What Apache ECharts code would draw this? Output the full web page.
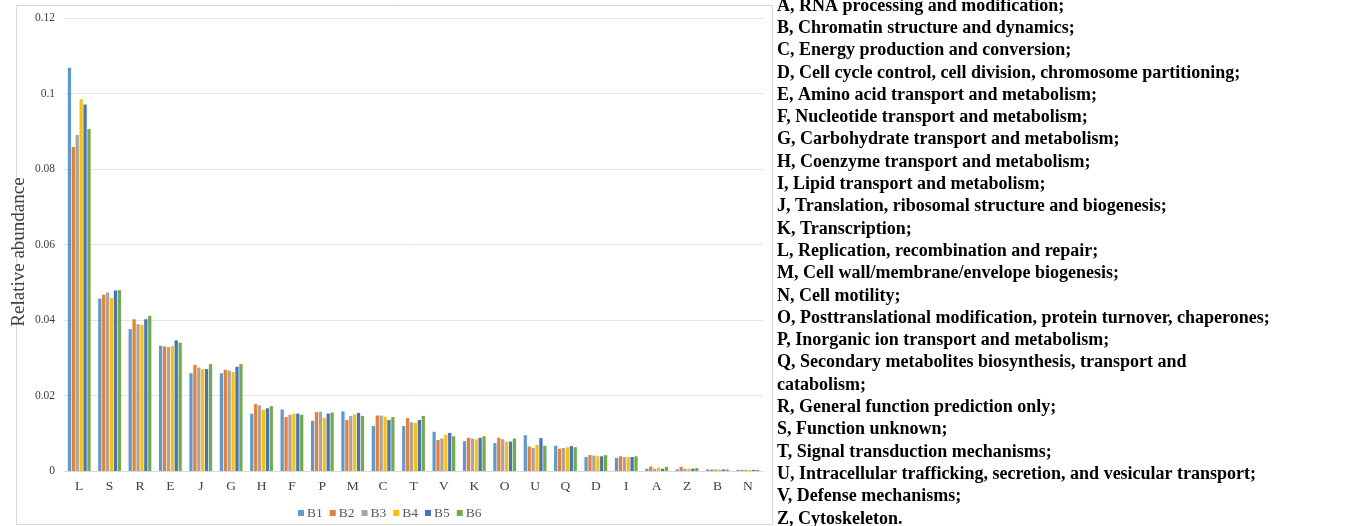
<!DOCTYPE html>
<html>
<head>
<meta charset="utf-8">
<script src="https://cdn.jsdelivr.net/npm/echarts@6/dist/echarts.min.js"></script>
<style>
  html, body { margin: 0; padding: 0; background: #fff; }
  #chart { width: 1358px; height: 526px; }
</style>
</head>
<body>
<div id="chart"></div>
<script>
// COG functional categories, ordered by abundance
const categories = ['L','S','R','E','J','G','H','F','P','M','C','T','V','K','O','U','Q','D','I','A','Z','B','N'];

const sampleNames = ['B1','B2','B3','B4','B5','B6'];

const b1 = [0.1068,0.0457,0.0376,0.0332,0.0259,0.0259,0.0152,0.0163,0.0133,0.0158,0.0119,0.0119,0.0104,0.0079,0.0074,0.0095,0.0067,0.0037,0.0035,0.0006,0.0004,0.0004,0.0003];
const b2 = [0.0858,0.0467,0.0402,0.0330,0.0281,0.0268,0.0177,0.0143,0.0156,0.0135,0.0147,0.0140,0.0082,0.0088,0.0088,0.0065,0.0059,0.0042,0.0039,0.0012,0.0011,0.0004,0.0003];
const b3 = [0.0890,0.0473,0.0389,0.0328,0.0274,0.0266,0.0174,0.0149,0.0157,0.0146,0.0147,0.0129,0.0086,0.0086,0.0084,0.0061,0.0061,0.0041,0.0037,0.0006,0.0006,0.0004,0.0003];
const b4 = [0.0985,0.0458,0.0387,0.0331,0.0270,0.0262,0.0162,0.0152,0.0141,0.0150,0.0144,0.0127,0.0096,0.0084,0.0078,0.0069,0.0063,0.0039,0.0037,0.0009,0.0006,0.0004,0.0003];
const b5 = [0.0971,0.0478,0.0402,0.0346,0.0270,0.0276,0.0166,0.0152,0.0152,0.0154,0.0135,0.0135,0.0101,0.0088,0.0078,0.0087,0.0066,0.0039,0.0037,0.0006,0.0006,0.0004,0.0003];
const b6 = [0.0906,0.0479,0.0411,0.0340,0.0283,0.0283,0.0172,0.0149,0.0155,0.0146,0.0143,0.0146,0.0092,0.0092,0.0086,0.0067,0.0063,0.0042,0.0039,0.0011,0.0008,0.0004,0.0003];

const yTicks = { min: 0, max: 0.12, interval: 0.02 };

// Category descriptions listed beside the chart
const descriptions = [
  'A, RNA processing and modification;',
  'B, Chromatin structure and dynamics;',
  'C, Energy production and conversion;',
  'D, Cell cycle control, cell division, chromosome partitioning;',
  'E, Amino acid transport and metabolism;',
  'F, Nucleotide transport and metabolism;',
  'G, Carbohydrate transport and metabolism;',
  'H, Coenzyme transport and metabolism;',
  'I, Lipid transport and metabolism;',
  'J, Translation, ribosomal structure and biogenesis;',
  'K, Transcription;',
  'L, Replication, recombination and repair;',
  'M, Cell wall/membrane/envelope biogenesis;',
  'N, Cell motility;',
  'O, Posttranslational modification, protein turnover, chaperones;',
  'P, Inorganic ion transport and metabolism;',
  'Q, Secondary metabolites biosynthesis, transport and',
  'catabolism;',
  'R, General function prediction only;',
  'S, Function unknown;',
  'T, Signal transduction mechanisms;',
  'U, Intracellular trafficking, secretion, and vesicular transport;',
  'V, Defense mechanisms;',
  'Z, Cytoskeleton.'
];

const seriesValues = [b1, b2, b3, b4, b5, b6];
const palette = ['#5B9BD5','#ED7D31','#A5A5A5','#FFC000','#4472C4','#70AD47'];
const serif = '"Liberation Serif", "Times New Roman", serif';

const chart = echarts.init(document.getElementById('chart'), null, { renderer: 'canvas' });

const descLines = descriptions.map((txt, i) => ({
  type: 'text',
  left: 777,
  top: -3 + i * 22.3,
  style: { text: txt, font: 'bold 18px ' + serif, fill: '#000' }
}));

chart.setOption({
  backgroundColor: '#fff',
  animation: false,
  color: palette,
  grid: { left: 64, right: 595, top: 18, bottom: 55, containLabel: false, outerBoundsMode: 'none' },
  legend: {
    data: sampleNames,
    left: 293,
    top: 501,
    itemWidth: 6,
    itemHeight: 6,
    itemGap: 7,
    icon: 'rect',
    textStyle: { fontFamily: serif, fontSize: 13.5, color: '#595959', padding: [0, 0, 0, -2] }
  },
  xAxis: {
    type: 'category',
    data: categories,
    axisLine: { lineStyle: { color: '#D9D9D9', width: 1 } },
    axisTick: { show: false },
    axisLabel: { fontFamily: serif, fontSize: 13.5, color: '#404040', margin: 8 }
  },
  yAxis: {
    type: 'value',
    min: yTicks.min,
    max: yTicks.max,
    interval: yTicks.interval,
    name: 'Relative abundance',
    nameLocation: 'middle',
    nameMoveOverlap: false,
    nameGap: 35,
    nameTextStyle: { fontFamily: serif, fontSize: 19, color: '#404040', padding: [0, 15, 0, 0] },
    axisLine: { show: false },
    axisTick: { show: false },
    splitLine: { lineStyle: { color: '#E4E4E4', width: 1 } },
    axisLabel: { fontFamily: serif, fontSize: 11.5, color: '#404040', margin: 9 }
  },
  series: seriesValues.map((vals, i) => ({
    name: sampleNames[i],
    type: 'bar',
    data: vals,
    barGap: '20%',
    barCategoryGap: '25%'
  })),
  graphic: [
    {
      type: 'rect',
      shape: { x: 16.5, y: 5.5, width: 756, height: 519 },
      style: { fill: 'none', stroke: '#D9D9D9', lineWidth: 1 },
      silent: true
    },
    ...descLines
  ]
});
</script>
</body>
</html>
